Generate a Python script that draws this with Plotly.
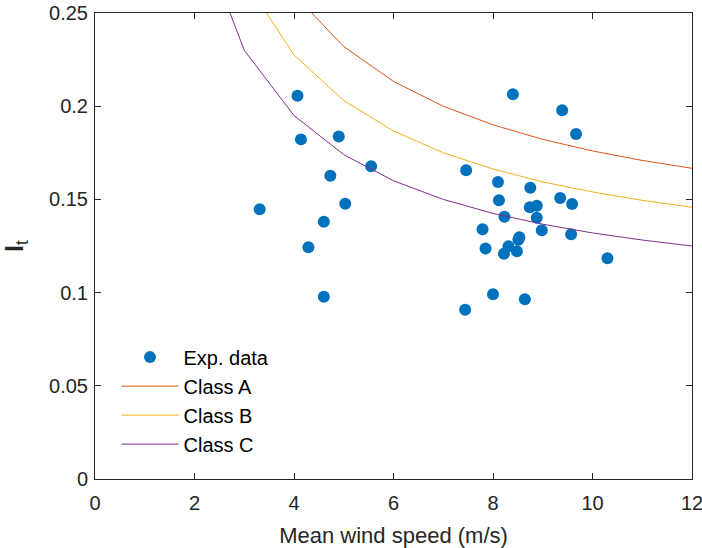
import plotly.graph_objects as go

# Experimental data: mean wind speed (m/s) and turbulence intensity
exp_speed = [3.31, 4.07, 4.14, 4.29, 4.60, 4.60, 4.73, 4.90, 5.03, 5.55,
             7.44, 7.46, 7.79, 7.85, 8.00, 8.10, 8.12, 8.22, 8.23, 8.31,
             8.40, 8.48, 8.51, 8.53, 8.64, 8.74, 8.75, 8.88, 8.88, 8.98,
             9.35, 9.39, 9.57, 9.59, 9.67, 10.30]
exp_ti = [0.1447, 0.2056, 0.1822, 0.1243, 0.1380, 0.0978, 0.1627, 0.1838, 0.1477, 0.1678,
          0.0908, 0.1656, 0.1340, 0.1236, 0.0991, 0.1593, 0.1495, 0.1209, 0.1407, 0.1248,
          0.2064, 0.1222, 0.1284, 0.1297, 0.0964, 0.1458, 0.1563, 0.1466, 0.1402, 0.1334,
          0.1507, 0.1978, 0.1313, 0.1475, 0.1851, 0.1184]

# Class reference curves (read at integer wind speeds)
class_speed = [2, 3, 4, 5, 6, 7, 8, 9, 10, 11, 12]
class_a = [0.400, 0.3067, 0.260, 0.232, 0.2133, 0.200, 0.190, 0.1822, 0.176, 0.1709, 0.1667]
class_b = [0.350, 0.2683, 0.2275, 0.203, 0.1867, 0.175, 0.1663, 0.1594, 0.154, 0.1495, 0.1458]
class_c = [0.300, 0.230, 0.195, 0.174, 0.160, 0.150, 0.1425, 0.1367, 0.132, 0.1282, 0.125]

x_ticks = [0, 2, 4, 6, 8, 10, 12]
y_ticks = [0, 0.05, 0.1, 0.15, 0.2, 0.25]
y_tick_text = ["0", "0.05", "0.1", "0.15", "0.2", "0.25"]

FONT = "Liberation Sans, Arial, sans-serif"
AX = "#262626"
FS = 20

fig = go.Figure()
fig.add_trace(go.Scatter(x=exp_speed, y=exp_ti, mode="markers", name="Exp. data",
                         marker=dict(color="#0072BD", size=12, line=dict(width=0))))
fig.add_trace(go.Scatter(x=class_speed, y=class_a, mode="lines", name="Class A",
                         line=dict(color="#D95319", width=1)))
fig.add_trace(go.Scatter(x=class_speed, y=class_b, mode="lines", name="Class B",
                         line=dict(color="#EDB120", width=1)))
fig.add_trace(go.Scatter(x=class_speed, y=class_c, mode="lines", name="Class C",
                         line=dict(color="#7E2F8E", width=1)))

axis_common = dict(showline=True, linecolor=AX, linewidth=1, mirror="ticks",
                   ticks="inside", ticklen=6, tickcolor=AX, showgrid=False,
                   zeroline=False, automargin=False, ticklabeloverflow="allow",
                   tickfont=dict(family=FONT, size=FS, color=AX))

fig.update_layout(
    width=702, height=548,
    margin=dict(l=95, r=10, t=13, b=69),
    paper_bgcolor="white", plot_bgcolor="white",
    font=dict(family=FONT, size=FS, color=AX),
    showlegend=True,
    legend=dict(x=0.036, y=0.033, xanchor="left", yanchor="bottom",
                bgcolor="rgba(0,0,0,0)", borderwidth=0,
                font=dict(family=FONT, size=20, color="#000000"),
                itemwidth=57, tracegroupgap=0),
    xaxis=dict(range=[0, 12], tickvals=x_ticks, ticklabelstandoff=6,
               title=dict(text="Mean wind speed (m/s)", standoff=14,
                          font=dict(family=FONT, size=22, color=AX)),
               **axis_common),
    yaxis=dict(range=[0, 0.25], tickvals=y_ticks, ticktext=y_tick_text,
               ticklabelstandoff=2,
               title=dict(text="<b>I</b><sub>t</sub>", standoff=19,
                          font=dict(family=FONT, size=25, color=AX)),
               **axis_common),
)

# remove the default 8px page margin so the figure fills the window exactly
fig.write_html("out.html", config={"displayModeBar": False},
               post_script="document.body.style.margin='0px';")
